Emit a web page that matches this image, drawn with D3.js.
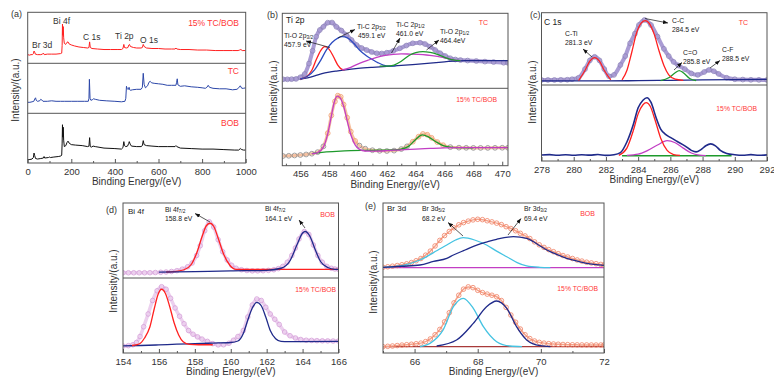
<!DOCTYPE html>
<html>
<head>
<meta charset="utf-8">
<script src="https://cdn.jsdelivr.net/npm/d3@7"></script>
<style>
  body { margin: 0; background: #fff; }
  text { font-family: "Liberation Sans", Arial, sans-serif; }
</style>
</head>
<body>
<script>
// ---------- data (binding energy eV, relative intensity 0-100 per sub-panel) ----------
// (a) survey
let surveyRed = [[0,17],[8,16],[15,17],[22,17],[26,19],[29,24],[32,22],[35,18],[45,17],[60,17],[68,18],[72,20],[76,17],[90,18],[110,18],[130,18],[150,19],[156,20],[158,35],[159.5,77],[161,55],[163,72],[165,50],[168,39],[174,37],[180,41],[185,42],[190,38],[200,36],[215,34],[235,32],[255,31],[275,30],[281,31],[284,42],[287,31],[295,29],[320,28],[350,27],[380,27],[410,27],[430,27],[437,29],[441,37],[444,31],[452,30],[460,31],[464,36],[467,37],[471,33],[485,31],[500,30],[520,30],[526,31],[530,37],[534,33],[545,30],[570,29],[600,29],[630,28],[660,28],[676,28],[680,30],[684,28],[700,27],[740,27],[780,26],[820,26],[860,25],[900,25],[940,25],[965,25],[972,26],[978,27],[984,25],[1000,25]];
let surveyBlue = [[0,22],[10,22],[20,23],[28,24],[33,29],[36,31],[39,26],[45,24],[55,25],[60,28],[64,27],[70,24],[90,24],[110,25],[130,24],[150,24],[170,24],[200,24],[230,24],[260,24],[278,24],[281,30],[283,68],[286,30],[290,26],[296,27],[302,29],[310,28],[330,26],[360,25],[400,24],[430,23],[446,24],[450,30],[453,54],[456,50],[459,48],[462,48],[465,52],[468,47],[472,46],[480,47],[500,48],[520,48],[526,52],[530,80],[534,58],[540,51],[550,55],[556,62],[562,64],[568,61],[580,60],[600,59],[620,58],[640,56],[660,56],[680,56],[683,62],[686,69],[689,57],[700,54],[720,55],[750,53],[780,52],[800,51],[815,50],[822,52],[828,56],[834,52],[850,50],[880,49],[910,49],[940,47],[960,48],[968,51],[975,55],[982,50],[990,50],[1000,51]];
let surveyBlack = [[0,7],[10,7],[20,8],[26,11],[29,20],[32,15],[36,9],[45,8],[60,9],[72,10],[75,13],[78,10],[95,11],[100,12],[104,11],[120,12],[140,13],[152,14],[156,16],[158,40],[159.5,77],[161,52],[163,72],[165,46],[168,33],[175,35],[180,41],[185,44],[190,40],[200,37],[220,36],[250,35],[275,33],[281,34],[284,51],[287,33],[292,32],[300,34],[310,33],[350,30],[400,29],[430,28],[437,31],[441,43],[444,35],[450,33],[458,34],[463,39],[466,43],[470,38],[476,34],[500,33],[520,33],[526,35],[530,45],[534,37],[545,35],[570,34],[600,33],[640,33],[676,33],[680,35],[684,33],[700,30],[750,29],[800,28],[850,28],[900,27],[950,26],[968,26],[975,29],[982,27],[990,26],[1000,26]];
let surveyTicks = [0, 200, 400, 600, 800, 1000];

// (b) Ti 2p
let ti2pTcData = [[454.8,12],[455.1,12],[455.4,12.2],[455.7,12.5],[456,14.7],[456.3,19],[456.6,33],[456.85,50],[457.1,68.8],[457.35,77.7],[457.6,82],[457.9,87.5],[458.2,87.7],[458.5,82],[458.85,77],[459.2,71],[459.55,64.4],[459.9,57.7],[460.25,53.7],[460.6,51],[460.95,48.4],[461.3,46.7],[461.65,46.4],[462,47.5],[462.45,50],[462.9,53.3],[463.35,57],[463.8,60],[464.3,60.8],[464.65,59],[465,55.5],[465.35,51],[465.7,46.7],[466.05,43],[466.4,40],[466.75,38.4],[467.1,37.7],[467.6,37],[468.2,36.4],[468.8,35.6],[469.4,35],[470.1,34.1],[470.4,34]];
let ti2pTcBg = [[456,12.4],[456.5,14],[457,16.5],[457.5,19.5],[458,21.5],[458.5,23],[459,24.3],[460,26.5],[461,28],[462,29.2],[463,30.5],[464,32],[465,33.6],[466,35.3],[467,36.7],[468,36.8],[470.4,36.8]];
let ti2pTcO32 = [[456,12.4],[456.4,15],[456.8,24],[457.1,38],[457.4,50],[457.7,55.5],[458,52],[458.3,42],[458.6,31],[458.9,25.3],[459.1,24.8]];
let ti2pTcC32 = [[456,12.4],[456.5,16],[457,25],[457.4,37],[457.8,51],[458.2,61],[458.6,67],[458.9,68.8],[459.3,67],[459.7,60],[460.1,51],[460.6,43],[461.05,37.7],[461.4,34],[461.75,31],[462.2,29.6],[462.6,30]];
let ti2pTcC12 = [[458.9,24.4],[459.5,28],[460.1,33.3],[460.7,37.5],[461.3,41.3],[461.9,44],[462.45,45.3],[463,45.8],[463.6,45.7],[464.2,45.2],[464.75,44.4],[465.5,42.5],[466.2,39.9],[466.6,38],[467.1,36.8]];
let ti2pTcO12 = [[461.5,29.5],[462,29.5],[462.5,31],[463,36],[463.6,44.4],[464,47.5],[464.5,48.8],[465,47.8],[465.45,45.7],[465.8,43],[466.2,39.9],[466.6,37.8],[467.1,36.8]];
let ti2pMixData = [[454.8,12.5],[455.2,12.8],[455.6,13.2],[456,13.8],[456.4,14.5],[456.8,15.5],[457.2,17.5],[457.6,25],[457.9,42],[458.15,65],[458.4,83],[458.6,90.5],[458.8,89],[459,79],[459.25,62],[459.5,44],[459.8,32],[460.1,26],[460.5,22],[461,20],[461.5,19.2],[462,19],[462.5,19.5],[463,21.5],[463.4,25],[463.8,31],[464.2,37.5],[464.5,41],[464.8,40],[465.1,36],[465.5,30.5],[465.9,26.5],[466.4,24],[467,23.3],[467.5,23.1],[468,23],[468.5,23],[469,23],[469.5,23.1],[470,23.2],[470.4,23.2]];
let ti2pMixFit1 = [[456.8,15.5],[457.2,17],[457.6,24],[457.9,41],[458.15,64],[458.35,82],[458.55,90],[458.75,88],[459,77],[459.25,58],[459.5,40],[459.8,27],[460.1,21],[460.5,19],[461,18.8],[462,19.4],[463,20.5],[464,21.5],[465,22.3],[466,23],[467,23.3],[470.4,23.3]];
let ti2pMixFit2 = [[456.8,15.5],[457.5,17.3],[458.5,18.5],[459.5,19.4],[460.5,19.8],[461.5,20.1],[462.5,20.4],[463,21.5],[463.5,25],[464,34],[464.45,39.7],[464.9,37],[465.4,31],[465.9,26],[466.5,23.8],[467.2,23.3],[468,23.2]];
let ti2pTicks = [456, 458, 460, 462, 464, 466, 468, 470];

// (c) C 1s
let c1sTcData = [[278,7],[278.4,7],[278.8,7],[279.2,7.1],[279.6,7.3],[279.9,8],[280.3,10],[280.7,22],[281,34],[281.3,39],[281.6,34],[281.9,22],[282.2,12],[282.5,14],[282.9,27.7],[283.2,40],[283.5,57.7],[283.8,71],[284.05,83],[284.4,90],[284.8,83],[285.2,67],[285.6,50],[285.9,40],[286.2,32],[286.5,27],[286.9,22],[287.3,16],[287.7,14],[288.1,18],[288.4,20.8],[288.7,19],[289,15.3],[289.5,10],[290,8],[290.5,7.5],[291,7.2],[291.5,7.1],[292,7]];
let c1sTcBg = [[278,5.6],[282,5.6],[284,6],[286,6.5],[288,7],[290,7.5],[292,7.9]];
let c1sTcCTi = [[280.3,6],[280.7,20],[281,33],[281.3,38],[281.6,33],[281.9,20],[282.3,7]];
let c1sTcCC = [[283,7],[283.3,20],[283.6,45],[283.9,72],[284.2,86],[284.45,89],[284.7,85],[285,70],[285.3,47],[285.6,27],[285.9,14],[286.3,8],[286.8,6.5]];
let c1sTcCO = [[285.4,6],[285.9,10],[286.3,17],[286.55,20],[286.8,17],[287.2,9],[287.6,6]];
let c1sMixData = [[278,7.8],[278.5,8.4],[279,7.5],[279.5,8.3],[280,7.6],[280.5,8.2],[281,7.7],[281.5,8.5],[282,7.4],[282.5,8.2],[282.9,11],[283.3,25],[283.7,48],[284,70],[284.3,80],[284.55,83.3],[284.8,77],[285.1,58],[285.4,42],[285.7,35],[286,31],[286.4,26],[286.9,20],[287.3,14],[287.6,12],[287.9,15],[288.2,20],[288.5,22.5],[288.8,20],[289.1,14],[289.5,10],[290,8.3],[290.5,7.6],[291,8.4],[291.5,7.5],[292,8]];
let c1sMixCC = [[282.8,7.5],[283.3,17],[283.7,40],[284,62],[284.3,74],[284.5,76.7],[284.75,72],[285.05,54],[285.4,30],[285.8,14],[286.2,8.5],[286.6,7.3]];
let c1sMixCO = [[283.3,7.5],[284,9],[284.6,14],[285.2,21],[285.8,26.7],[286.3,24],[286.8,17],[287.3,10.5],[287.8,7.8],[288.2,7.2]];
let c1sMixBg = [[283,7],[289.8,7]];
let c1sTicks = [278, 280, 282, 284, 286, 288, 290, 292];

// (d) Bi 4f
let bi4fBobData = [[154,7],[154.3,7],[154.6,7],[154.9,7],[155.2,7],[155.5,7.1],[155.8,7.3],[156.1,7.6],[156.4,8],[156.7,8.7],[157,9.8],[157.3,11.8],[157.6,15],[157.85,20],[158.1,30],[158.3,43],[158.55,63],[158.8,75],[159.05,68],[159.3,51],[159.55,35],[159.8,24],[160.05,17],[160.3,13],[160.6,11],[160.9,10],[161.2,9.5],[161.5,9.5],[161.8,9.7],[162.1,10.2],[162.4,11],[162.65,12.5],[162.9,15.5],[163.15,21],[163.4,30],[163.6,40],[163.8,52],[164.1,62],[164.35,58],[164.6,44],[164.85,30],[165.1,21],[165.35,15.5],[165.6,13],[165.8,12],[166,11.6]];
let bi4fBob72 = [[156.4,8],[156.8,8.5],[157.4,11],[157.8,18],[158.1,33],[158.4,55],[158.65,70],[158.85,73],[159.05,69],[159.3,53],[159.6,32],[159.95,17],[160.3,11.5],[160.8,11.6],[166,11.6]];
let bi4fBob52 = [[156,7.8],[158,8.5],[160,9.5],[162,10.3],[162.8,13],[163.3,23],[163.7,45],[164,60],[164.15,62],[164.4,56],[164.7,38],[165,22],[165.4,14],[165.8,11.6],[166,11.5]];
let bi4fMixData = [[154,9.3],[154.3,9.8],[154.55,11],[154.75,14],[154.95,22],[155.15,35],[155.4,52],[155.65,70],[155.9,83],[156.15,88.4],[156.4,85],[156.65,73],[156.9,60],[157.15,49],[157.4,39],[157.65,30],[157.9,25],[158.15,21.5],[158.4,18.5],[158.7,15.5],[159,12.5],[159.3,10.8],[159.6,11],[159.9,13],[160.15,17],[160.4,22],[160.7,30],[160.95,48],[161.2,64],[161.45,72],[161.7,70],[161.95,61],[162.2,52],[162.45,45],[162.7,38],[163,28],[163.3,23],[163.6,20],[163.9,18],[164.2,17],[164.5,16.8],[164.8,16.5],[165.1,16.3],[165.4,16.2],[165.7,16],[166,16]];
let bi4fMix72 = [[154.5,10],[154.9,12],[155.2,20],[155.5,35],[155.75,60],[155.95,78],[156.15,85],[156.35,80],[156.6,62],[156.85,40],[157.1,24],[157.35,15],[157.7,11.5],[158.2,11],[159,11]];
let bi4fMix52 = [[154,9.5],[155,10],[156,10.8],[157,11.8],[158,12.5],[159,13.2],[160,14],[160.4,16],[160.7,26],[160.95,44],[161.2,60],[161.45,67.5],[161.7,63],[161.95,48],[162.2,30],[162.5,19],[162.8,15.5],[163.2,15.2],[164,15.3],[166,15.5]];
let bi4fTicks = [154, 156, 158, 160, 162, 164, 166];

// (e) Br 3d
let br3dBobData = [[65,13.1],[65.15,13.8],[65.3,14.6],[65.45,15.5],[65.6,16.6],[65.75,17.8],[65.9,19.5],[66.05,22],[66.2,25],[66.35,29.5],[66.5,35],[66.65,42],[66.8,49.5],[66.95,56],[67.1,61.5],[67.25,66.5],[67.4,70.5],[67.55,73.5],[67.7,75.5],[67.85,77.2],[68,78],[68.15,77.5],[68.3,76],[68.45,74.5],[68.6,72.8],[68.75,70.8],[68.9,68],[69.05,65.5],[69.2,62.5],[69.35,59],[69.5,55.5],[69.65,52],[69.8,47.5],[69.95,43.5],[70.1,40],[70.25,37],[70.4,34.2],[70.55,31.5],[70.7,29],[70.85,27],[71,25],[71.15,23],[71.3,21.5],[71.45,20],[71.6,19],[71.75,18],[71.9,17],[72,16.2]];
let br3dBob52 = [[65,13],[65.6,15.5],[66.17,23],[66.6,33],[67.02,43.2],[67.3,50],[67.54,53.1],[67.9,50],[68.28,43.2],[68.6,35],[68.92,27.4],[69.25,19.5],[69.55,14.9],[69.97,13.1],[70.3,12.7]];
let br3dBob32 = [[65,13],[65.6,14.5],[66.17,16.2],[66.6,21],[67.02,25.3],[67.23,29.7],[67.6,36.5],[67.97,43.2],[68.3,47.5],[68.6,51],[69.13,54.5],[69.55,52.3],[69.9,44],[70.19,36.5],[70.5,30.5],[70.82,25.3],[71.15,21.5],[71.45,18.5],[72,15.8]];
let br3dBobBg = [[65,12.6],[72,12.6]];
let br3dMixData = [[65,8.3],[65.15,8.8],[65.3,9.2],[65.45,9.8],[65.6,10.4],[65.75,10.9],[65.9,11.5],[66.05,12.2],[66.2,13],[66.35,15],[66.5,18.5],[66.65,24],[66.8,31],[66.95,41],[67.1,53],[67.25,66],[67.4,76],[67.55,84],[67.7,87],[67.85,86],[68,82.5],[68.15,79.5],[68.3,77.5],[68.45,76],[68.6,74],[68.75,69],[68.9,60],[69.05,50],[69.2,40.5],[69.35,31.5],[69.5,24],[69.65,19],[69.8,15.8],[69.95,14],[70.1,13],[70.25,12.3],[70.4,11.8],[70.55,11.5],[70.7,11.2],[70.85,11],[71,10.8],[71.15,10.7],[71.3,10.6],[71.45,10.6],[71.6,10.5],[71.75,10.5],[71.9,10.5],[72,10.5]];
let br3dMix52 = [[66.17,8.5],[66.5,13],[66.9,30],[67.23,60.9],[67.54,72],[67.86,58.8],[68.18,34.6],[68.6,14.9],[69.02,9.2],[69.4,8.4]];
let br3dMix32 = [[66.7,9.2],[67.33,17.1],[67.86,39],[68.28,60.9],[68.6,68.4],[68.92,58.8],[69.23,34.6],[69.55,17.1],[69.97,9.6],[70.3,8.5]];
let br3dMixBg = [[65,8.3],[72,8.3]];
let br3dTicks = [66, 68, 70, 72];

// ---------- drawing ----------
const C = {
  red: '#ff2020', navy: '#1f2a8a', blue: '#2c47a8', black: '#111',
  magenta: '#c23ec4', green: '#1e9a2c', cyan: '#45c3e2', lav: '#aa9cd4',
  lavDot: '#8d84b8', pink: '#d49ed8', orange: '#f07f62', brown: '#a83a3a',
  frame: '#555', label: '#ff3636', text: '#222'
};

let svg = d3.select('body').append('svg')
    .attr('width', 774).attr('height', 384).style('display', 'block');
let defs = svg.append('defs');
defs.append('marker').attr('id', 'arrow')
    .attr('viewBox', '0 0 10 10').attr('refX', 10).attr('refY', 5)
    .attr('markerWidth', 5).attr('markerHeight', 5).attr('markerUnits', 'userSpaceOnUse')
    .attr('orient', 'auto')
  .append('path').attr('d', 'M0,1L10,5L0,9z').attr('fill', '#111');

function makePanel(p) {
    let x = d3.scaleLinear().domain(p.domain).range([p.left, p.right]);
    let top = p.bands[0], bottom = p.bands[p.bands.length - 1];
    let rows = [];
    for (let i = 0; i < p.bands.length - 1; i++) {
        rows.push(d3.scaleLinear().domain([0, 100]).range([p.bands[i + 1], p.bands[i]]));
    }
    defs.append('clipPath').attr('id', 'clip-' + p.id).append('rect')
        .attr('x', p.left).attr('y', top)
        .attr('width', p.right - p.left).attr('height', bottom - top);
    let plot = svg.append('g').attr('clip-path', `url(#clip-${p.id})`);

    // minor + major ticks, inside
    if (p.minor) {
        let mg = svg.append('g').attr('transform', `translate(0,${bottom})`)
            .call(d3.axisBottom(x).tickValues(p.minor).tickSize(-2).tickFormat(''));
        mg.select('.domain').remove();
        mg.selectAll('line').attr('stroke', C.frame);
    }
    let ag = svg.append('g').attr('transform', `translate(0,${bottom})`)
        .call(d3.axisBottom(x).tickValues(p.ticks).tickSizeInner(-4).tickSizeOuter(0)
            .tickPadding(5).tickFormat(d3.format('d')));
    ag.select('.domain').remove();
    ag.selectAll('line').attr('stroke', C.frame);
    ag.selectAll('text').attr('font-size', 9.5).attr('fill', '#333')
        .style('font-family', '"Liberation Sans", Arial, sans-serif');

    svg.append('rect').attr('x', p.left).attr('y', top)
        .attr('width', p.right - p.left).attr('height', bottom - top)
        .attr('fill', 'none').attr('stroke', C.frame).attr('stroke-width', 1);
    p.bands.slice(1, -1).forEach(b => {
        svg.append('line').attr('x1', p.left).attr('x2', p.right).attr('y1', b).attr('y2', b)
            .attr('stroke', C.frame).attr('stroke-width', 1);
    });

    svg.append('text').attr('x', (p.left + p.right) / 2).attr('y', bottom + 22)
        .attr('text-anchor', 'middle').attr('font-size', 10).attr('fill', '#333')
        .text('Binding Energy/(eV)');
    svg.append('text')
        .attr('transform', `translate(${p.yLab[0]},${p.yLab[1]}) rotate(-90)`)
        .attr('text-anchor', 'middle').attr('dy', '0.35em')
        .attr('font-size', 10).attr('fill', '#333')
        .text('Intensity/(a.u.)');
    svg.append('text').attr('x', p.tag[0]).attr('y', p.tag[1])
        .attr('font-size', 9).attr('fill', '#333').text(p.tag[2]);
    return {x, rows, plot};
}

function drawLine(pn, row, data, color, w, curve) {
    let y = pn.rows[row];
    pn.plot.append('path').datum(data)
        .attr('fill', 'none').attr('stroke', color).attr('stroke-width', w)
        .attr('stroke-linejoin', 'round')
        .attr('d', d3.line().x(d => pn.x(d[0])).y(d => y(d[1])).curve(curve || d3.curveMonotoneX));
}

function drawDots(pn, row, data, color, r) {
    let y = pn.rows[row];
    pn.plot.append('g').selectAll('circle').data(data).enter().append('circle')
        .attr('cx', d => pn.x(d[0])).attr('cy', d => y(d[1])).attr('r', r)
        .attr('fill', 'none').attr('stroke', typeof color === 'function' ? d => color(d) : color)
        .attr('stroke-width', 0.8);
}

// parts: [text, isSub]
function note(x, y, parts, size, color, anchor) {
    let t = svg.append('text').attr('x', x).attr('y', y)
        .attr('font-size', size).attr('fill', color || C.text)
        .attr('text-anchor', anchor || 'start');
    parts.forEach(pt => {
        let s = t.append('tspan').text(pt[0]);
        if (pt[1]) s.attr('font-size', size * 0.72).attr('dy', 1.2);
        else if (t.selectAll('tspan').size() > 1) s.attr('dy', -1.2);
    });
}

function arrow(x1, y1, x2, y2) {
    svg.append('line').attr('x1', x1).attr('y1', y1).attr('x2', x2).attr('y2', y2)
        .attr('stroke', '#111').attr('stroke-width', 0.7).attr('marker-end', 'url(#arrow)');
}

// (a) survey
let pa = makePanel({id: 'a', domain: [0, 1000], left: 27.7, right: 245.7,
    bands: [12.3, 63.3, 113.3, 163], ticks: surveyTicks,
    minor: [100, 300, 500, 700, 900], yLab: [15, 90], tag: [11, 17, '(a)']});
drawLine(pa, 0, surveyRed, C.red, 1, d3.curveLinear);
drawLine(pa, 1, surveyBlue, C.blue, 1, d3.curveLinear);
drawLine(pa, 2, surveyBlack, C.black, 1, d3.curveLinear);
note(32, 48, [['Br 3d']], 8.5, '#333');
note(53, 23.5, [['Bi 4f']], 8.5, '#333');
note(83, 40, [['C 1s']], 8.5, '#333');
note(115, 39, [['Ti 2p']], 8.5, '#333');
note(140, 43, [['O 1s']], 8.5, '#333');
note(239, 26, [['15% TC/BOB']], 8.5, C.label, 'end');
note(239, 74, [['TC']], 8.5, C.label, 'end');
note(239, 126, [['BOB']], 8.5, C.label, 'end');

// (b) Ti 2p
let pb = makePanel({id: 'b', domain: [454.75, 470.4], left: 282.3, right: 508,
    bands: [13.3, 88.3, 165.7], ticks: ti2pTicks,
    minor: [455, 457, 459, 461, 463, 465, 467, 469], yLab: [273, 92], tag: [267, 18, '(b)']});
drawLine(pb, 0, ti2pTcData, C.lav, 4);
drawDots(pb, 0, ti2pTcData, C.lavDot, 2.4);
drawLine(pb, 0, ti2pTcBg, C.navy, 1.3);
drawLine(pb, 0, ti2pTcO32, C.red, 1.3);
drawLine(pb, 0, ti2pTcC32, '#2c4bc0', 1.3);
drawLine(pb, 0, ti2pTcC12, C.magenta, 1.3);
drawLine(pb, 0, ti2pTcO12, C.green, 1.3);
drawLine(pb, 1, ti2pMixData, '#f6c0a0', 3);
drawDots(pb, 1, ti2pMixData, d => (d[1] > 26 ? '#f09a6a' : '#8a8a8a'), 2.4);
drawLine(pb, 1, ti2pMixFit2, C.green, 1.3);
drawLine(pb, 1, ti2pMixFit1, C.magenta, 1.3);
note(286, 23, [['Ti 2p']], 8.5, '#222');
note(284, 38, [['Ti-O 2p'], ['3/2', true]], 6.8);
note(284, 47, [['457.9 eV']], 6.8);
note(357, 29, [['Ti-C 2p'], ['3/2', true]], 6.8);
note(358, 37.5, [['459.1 eV']], 6.8);
note(396, 27, [['Ti-C 2p'], ['1/2', true]], 6.8);
note(396, 36, [['461.0 eV']], 6.8);
note(440, 34, [['Ti-O 2p'], ['1/2', true]], 6.8);
note(440, 42.5, [['464.4eV']], 6.8);
arrow(330, 47.5, 306, 41);
arrow(338, 38, 355, 29.5);
arrow(391.5, 53, 400, 38);
arrow(426.5, 50, 439, 40);
note(488, 25, [['TC']], 7, C.label, 'end');
note(497, 102, [['15% TC/BOB']], 6.8, C.label, 'end');

// (c) C 1s
let pc = makePanel({id: 'c', domain: [278, 292], left: 541.5, right: 767,
    bands: [12.7, 85, 161], ticks: c1sTicks,
    minor: [279, 281, 283, 285, 287, 289, 291], yLab: [532, 92], tag: [530, 18, '(c)']});
drawLine(pc, 0, c1sTcData, C.lav, 4);
drawDots(pc, 0, c1sTcData, C.lavDot, 2.4);
drawLine(pc, 0, c1sTcBg, C.navy, 1.3);
drawLine(pc, 0, c1sTcCTi, C.red, 1.2);
drawLine(pc, 0, c1sTcCO, C.green, 1.3);
drawLine(pc, 0, c1sTcCC, C.red, 1.3);
drawLine(pc, 1, c1sMixBg, C.green, 1.6, d3.curveLinear);
drawLine(pc, 1, c1sMixCO, C.magenta, 1.3);
drawLine(pc, 1, c1sMixCC, C.red, 1.3);
drawLine(pc, 1, c1sMixData, C.navy, 1.6);
note(544, 25, [['C 1s']], 8.5, '#222');
note(565, 36, [['C-Ti']], 6.8);
note(565, 45, [['281.3 eV']], 6.8);
note(672, 23, [['C-C']], 6.8);
note(672, 32, [['284.5 eV']], 6.8);
note(683, 55, [['C=O']], 6.8);
note(683, 64, [['285.8 eV']], 6.8);
note(722, 52, [['C-F']], 6.8);
note(722, 61, [['288.5 eV']], 6.8);
arrow(592, 57, 583, 49);
arrow(645, 18.5, 668, 23);
arrow(674, 70, 682, 62.5);
arrow(710, 68, 720, 60.5);
note(748, 25, [['TC']], 7, C.label, 'end');
note(757, 111, [['15% TC/BOB']], 6.8, C.label, 'end');

// (d) Bi 4f
let pd = makePanel({id: 'd', domain: [154, 166], left: 123, right: 338.5,
    bands: [203, 278, 353], ticks: bi4fTicks,
    minor: [155, 157, 159, 161, 163, 165], yLab: [113, 281], tag: [106, 213, '(d)']});
drawLine(pd, 0, bi4fBobData, '#ecd0ee', 3.5);
drawDots(pd, 0, bi4fBobData, C.pink, 2.3);
drawLine(pd, 0, bi4fBob72, C.red, 1.3);
drawLine(pd, 0, bi4fBob52, C.navy, 1.3);
drawLine(pd, 1, bi4fMixData, '#ecd0ee', 3.5);
drawDots(pd, 1, bi4fMixData, C.pink, 2.3);
drawLine(pd, 1, bi4fMix52, C.navy, 1.3);
drawLine(pd, 1, bi4fMix72, C.red, 1.3);
note(128, 214, [['Bi 4f']], 8, '#222');
note(165, 212, [['Bi 4f'], ['7/2', true]], 6.8);
note(165, 221, [['158.8 eV']], 6.8);
note(265, 211, [['Bi 4f'], ['7/2', true]], 6.8);
note(265, 221, [['164.1 eV']], 6.8);
arrow(210, 222, 195, 213.5);
arrow(305, 228, 299, 220);
note(335, 217, [['BOB']], 7, C.label, 'end');
note(336, 292, [['15% TC/BOB']], 6.8, C.label, 'end');

// (e) Br 3d
let pe = makePanel({id: 'e', domain: [65, 72], left: 383, right: 604,
    bands: [203, 277, 353], ticks: br3dTicks,
    minor: [65, 67, 69, 71], yLab: [373, 282], tag: [365, 209, '(e)']});
drawLine(pe, 0, br3dBobBg, C.magenta, 1.2, d3.curveLinear);
drawLine(pe, 0, br3dBobData, '#f4a48c', 1.5);
drawDots(pe, 0, br3dBobData, C.orange, 2.3);
drawLine(pe, 0, br3dBob52, C.cyan, 1.3);
drawLine(pe, 0, br3dBob32, C.navy, 1.3);
drawLine(pe, 1, br3dMixBg, C.brown, 1.2, d3.curveLinear);
drawLine(pe, 1, br3dMixData, '#f4a48c', 1.5);
drawDots(pe, 1, br3dMixData, C.orange, 2.3);
drawLine(pe, 1, br3dMix52, C.cyan, 1.3);
drawLine(pe, 1, br3dMix32, C.navy, 1.3);
note(387, 211, [['Br 3d']], 8, '#222');
note(422, 211, [['Br 3d'], ['5/2', true]], 6.8);
note(422, 221, [['68.2 eV']], 6.8);
note(524, 211, [['Br 3d'], ['3/2', true]], 6.8);
note(524, 221, [['69.4 eV']], 6.8);
arrow(463, 236, 448, 222.5);
arrow(508, 235, 521, 218.5);
note(595, 216, [['BOB']], 7, C.label, 'end');
note(598, 291, [['15% TC/BOB']], 6.8, C.label, 'end');
</script>
</body>
</html>
